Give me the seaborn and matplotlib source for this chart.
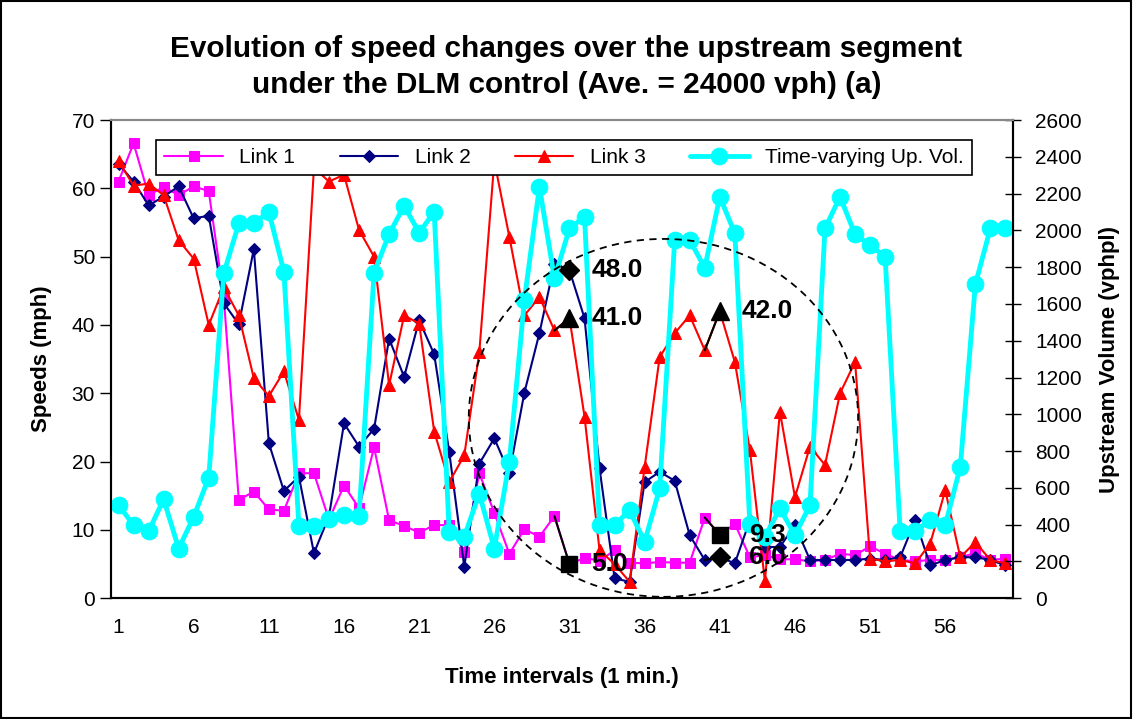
import numpy as np
import seaborn as sns
import matplotlib.pyplot as plt
from matplotlib.patches import Ellipse, Rectangle

# Data
t = list(range(1, 61))

link1 = [61.0, 66.6, 59.0, 60.2, 59.0, 60.3, 59.6, 44.1, 14.4, 15.6,
         13.0, 12.8, 18.3, 18.3, 11.5, 16.5, 13.2, 22.1, 11.4, 10.6,
         9.6, 10.7, 10.7, 6.8, 18.3, 12.5, 6.5, 10.1, 9.0, 12.0,
         5.0, 5.9, 5.5, 7.0, 5.2, 5.1, 5.3, 5.2, 5.2, 11.8,
         9.3, 10.9, 6.0, 6.3, 5.7, 5.7, 5.4, 5.6, 6.5, 6.3,
         7.6, 6.5, 5.6, 5.4, 5.6, 5.6, 6.0, 6.6, 5.6, 5.8]

link2 = [63.6, 61.0, 57.5, 58.8, 60.3, 55.6, 56.0, 43.2, 40.1, 51.1,
         22.7, 15.7, 17.8, 6.6, 12.0, 25.6, 22.2, 24.8, 38.0, 32.4,
         40.7, 35.7, 21.4, 4.6, 19.7, 23.4, 18.3, 30.1, 38.8, 49.0,
         48.0, 41.0, 19.0, 2.9, 2.4, 17.0, 18.5, 17.2, 9.2, 5.6,
         6.0, 5.1, 11.4, 7.5, 7.5, 10.7, 5.6, 5.6, 5.6, 5.6,
         5.8, 5.6, 6.0, 11.4, 4.8, 5.6, 6.0, 6.0, 5.6, 4.8]

link3 = [64.0, 60.4, 60.7, 59.0, 52.4, 49.7, 40.0, 45.5, 41.4, 32.2,
         29.6, 33.2, 26.1, 63.0, 61.0, 62.0, 53.9, 50.0, 31.2, 41.4,
         40.2, 24.4, 17.0, 20.9, 36.0, 64.0, 52.9, 41.4, 44.1, 39.2,
         41.0, 26.6, 7.0, 5.0, 2.4, 19.2, 35.3, 38.8, 41.4, 36.3,
         42.0, 34.6, 21.7, 2.5, 27.3, 14.8, 22.2, 19.5, 30.0, 34.6,
         5.8, 5.4, 5.6, 5.1, 8.0, 15.8, 6.0, 8.2, 5.6, 5.1]

volume = [506, 397, 364, 538, 270, 442, 656, 1766, 2038, 2038,
          2101, 1775, 392, 392, 433, 451, 446, 1770, 1980, 2134,
          1987, 2101, 361, 334, 569, 270, 742, 1621, 2237, 1739,
          2011, 2074, 397, 397, 479, 306, 597, 1947, 1947, 1797,
          2183, 1984, 406, 334, 488, 343, 506, 2011, 2183, 1978,
          1920, 1857, 364, 364, 424, 397, 714, 1706, 2011, 2011]

# highlighted intervals
marked_t = [31, 41]

sns.set_style("white")
plt.rcParams["font.family"] = ["Liberation Sans", "DejaVu Sans"]
plt.rcParams.update({"text.color": "black", "axes.labelcolor": "black",
                     "xtick.color": "black", "ytick.color": "black"})

fig = plt.figure(figsize=(11.33, 7.19), dpi=100)
ax = fig.add_axes([0.098, 0.168, 0.796, 0.665])
ax2 = ax.twinx()

sns.lineplot(x=t, y=link1, ax=ax, color="#FF00FF", lw=1.5, marker="s",
             markersize=7, markeredgecolor="#FF00FF", label="Link 1")
sns.lineplot(x=t, y=link2, ax=ax, color="#000080", lw=1.5, marker="D",
             markersize=6, markeredgecolor="#000080", label="Link 2")
sns.lineplot(x=t, y=link3, ax=ax, color="#FF0000", lw=1.5, marker="^",
             markersize=9, markeredgecolor="#FF0000", label="Link 3")

sns.lineplot(x=t, y=volume, ax=ax2, color="#00FFFF", lw=3.5, marker="o",
             markersize=12, markeredgecolor="#00FFFF",
             label="Time-varying Up. Vol.")

# black highlighted points (segment into the point is black too),
# drawn on the top axes so they sit above the volume line
for series, mk, ms in [(link1, "s", 12), (link2, "D", 10), (link3, "^", 13)]:
    for m in marked_t:
        sns.lineplot(x=[m - 1, m], y=[series[m - 2], series[m - 1]], ax=ax,
                     color="black", lw=1.5)
        ax2.plot(m, series[m - 1], marker=mk, ms=ms, color="black",
                 zorder=5, transform=ax.transData)
        dx = 16 if m == 31 or series is link3 else 21
        ax2.annotate(f"{series[m - 1]:.1f}", (m, series[m - 1]),
                     xycoords=ax.transData, xytext=(dx, 0),
                     textcoords="offset points", va="center", ha="left",
                     fontsize=19, fontweight="bold", zorder=6)

# dashed circle around the controlled period
ax2.add_patch(Ellipse((37.25, 26.4), 25.9, 52.4, transform=ax.transData,
                      fill=False, ls=(0, (4, 3)), lw=1.3, color="black",
                      zorder=4))

ax.set_xlim(0.5, 60.5)
ax.set_ylim(0, 70)
ax2.set_ylim(0, 2600)
ax.set_yticks(range(0, 71, 10))
ax2.set_yticks(range(0, 2601, 200))

ax.set_xticks(np.arange(0.5, 61, 1), minor=True)
ax.set_xticks(range(1, 60, 5))
ax.tick_params(axis="x", which="major", length=0, pad=14, labelsize=15)
ax.tick_params(axis="x", which="minor", direction="inout", length=12,
               width=1, color="black")
ax.tick_params(axis="y", direction="out", length=8, width=1, color="black",
               labelsize=15, left=True)
ax2.tick_params(axis="y", direction="inout", length=12, width=1,
                color="black", labelsize=15, right=True, pad=10)

for a in (ax, ax2):
    for s in ("left", "right", "bottom"):
        a.spines[s].set_color("black")
        a.spines[s].set_linewidth(1.5)
    a.spines["top"].set_color("#888888")
    a.spines["top"].set_linewidth(1.5)

ax.set_xlabel("Time intervals (1 min.)", fontsize=16, fontweight="bold",
              labelpad=22)
ax.set_ylabel("Speeds (mph)", fontsize=16, fontweight="bold", labelpad=14)
ax2.set_ylabel("Upstream Volume (vphpl)", fontsize=16, fontweight="bold",
               labelpad=12)

fig.text(0.5, 0.952, "Evolution of speed changes over the upstream segment\n"
         "under the DLM control (Ave. = 24000 vph) (a)",
         ha="center", va="top", fontsize=21.4, fontweight="bold",
         linespacing=1.4)

# combined legend
h1, l1 = ax.get_legend_handles_labels()
h2, l2 = ax2.get_legend_handles_labels()
if ax.get_legend():
    ax.get_legend().remove()
if ax2.get_legend():
    ax2.get_legend().remove()
keep = [i for i, l in enumerate(l1) if l.startswith("Link")]
leg = ax2.legend([h1[i] for i in keep] + h2, [l1[i] for i in keep] + l2,
                 loc="center", bbox_to_anchor=(0.05, 0.866, 0.905, 0.111),
                 mode="expand", ncol=4, fontsize=15, frameon=True,
                 fancybox=False, edgecolor="black", framealpha=1,
                 handlelength=2.8, borderaxespad=0)
leg.set_zorder(10)
leg.get_frame().set_linewidth(1.2)

fig.patches.append(Rectangle((0.001, 0.001), 0.997, 0.997,
                             transform=fig.transFigure, fill=False,
                             edgecolor="black", lw=1.5))

fig.savefig("out.png", dpi=100)
